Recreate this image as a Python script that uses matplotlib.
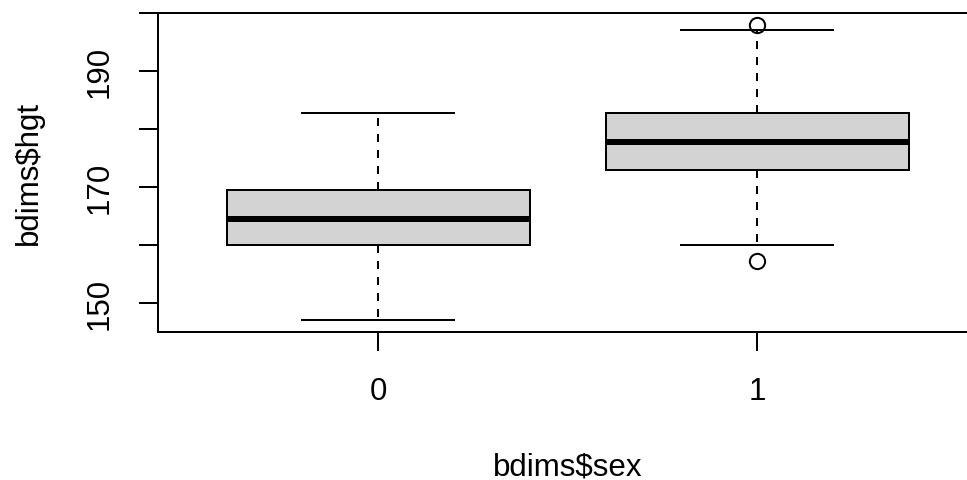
"""Boxplot of height by sex, in the style of an R base graphics boxplot."""

import matplotlib

matplotlib.use("Agg")
import matplotlib.pyplot as plt

# values
groups = ["0", "1"]
whisker_low = [147.2, 160.0]
quartile_1 = [160.0, 173.0]
medians = [164.5, 177.8]
quartile_3 = [169.5, 182.7]
whisker_high = [182.8, 197.1]
outliers = [[], [157.2, 198.0]]

y_ticks = [150, 160, 170, 180, 190, 200]
y_labels = ["150", "", "170", "", "190", ""]

plt.rcParams["font.family"] = ["Liberation Sans", "DejaVu Sans"]

LW = 1.44  # R lwd=1 at this resolution
FONT = 22.5

stats = []
for i, name in enumerate(groups):
    stats.append(
        {
            "label": name,
            "whislo": whisker_low[i],
            "q1": quartile_1[i],
            "med": medians[i],
            "q3": quartile_3[i],
            "whishi": whisker_high[i],
            "fliers": outliers[i],
        }
    )

fig = plt.figure(figsize=(9.67, 4.81), dpi=100)
ax = fig.add_axes([0.1639, 0.3083, 0.8464, 0.6626])

ax.bxp(
    stats,
    positions=[1, 2],
    widths=0.8,
    capwidths=0.4,
    patch_artist=True,
    boxprops={"facecolor": "#d3d3d3", "edgecolor": "black", "linewidth": LW},
    medianprops={"color": "black", "linewidth": LW * 3, "solid_capstyle": "butt"},
    whiskerprops={"color": "black", "linewidth": LW, "linestyle": (0, (4, 4))},
    capprops={"color": "black", "linewidth": LW},
    flierprops={
        "marker": "o",
        "markersize": 11,
        "markerfacecolor": "none",
        "markeredgecolor": "black",
        "markeredgewidth": LW,
    },
)

ax.set_xlim(0.42, 2.58)
ax.set_ylim(145.1, 200.0)
ax.set_xticks([1, 2])
ax.set_xticklabels(groups)
ax.set_yticks(y_ticks)
ax.set_yticklabels(y_labels, rotation=90, va="center")

ax.tick_params(
    direction="out", length=13.7, width=LW, labelsize=FONT, pad=18, colors="black"
)
for spine in ax.spines.values():
    spine.set_linewidth(LW)

ax.set_xlabel("bdims$sex", fontsize=FONT)
ax.set_ylabel("bdims$hgt", fontsize=FONT)
ax.xaxis.set_label_coords(0.5, -0.4214)
ax.yaxis.set_label_coords(-0.1582, 0.5)
ax.xaxis.label.set_va("center")
ax.yaxis.label.set_va("center")

fig.savefig("out.png", dpi=100)
plt.close(fig)
